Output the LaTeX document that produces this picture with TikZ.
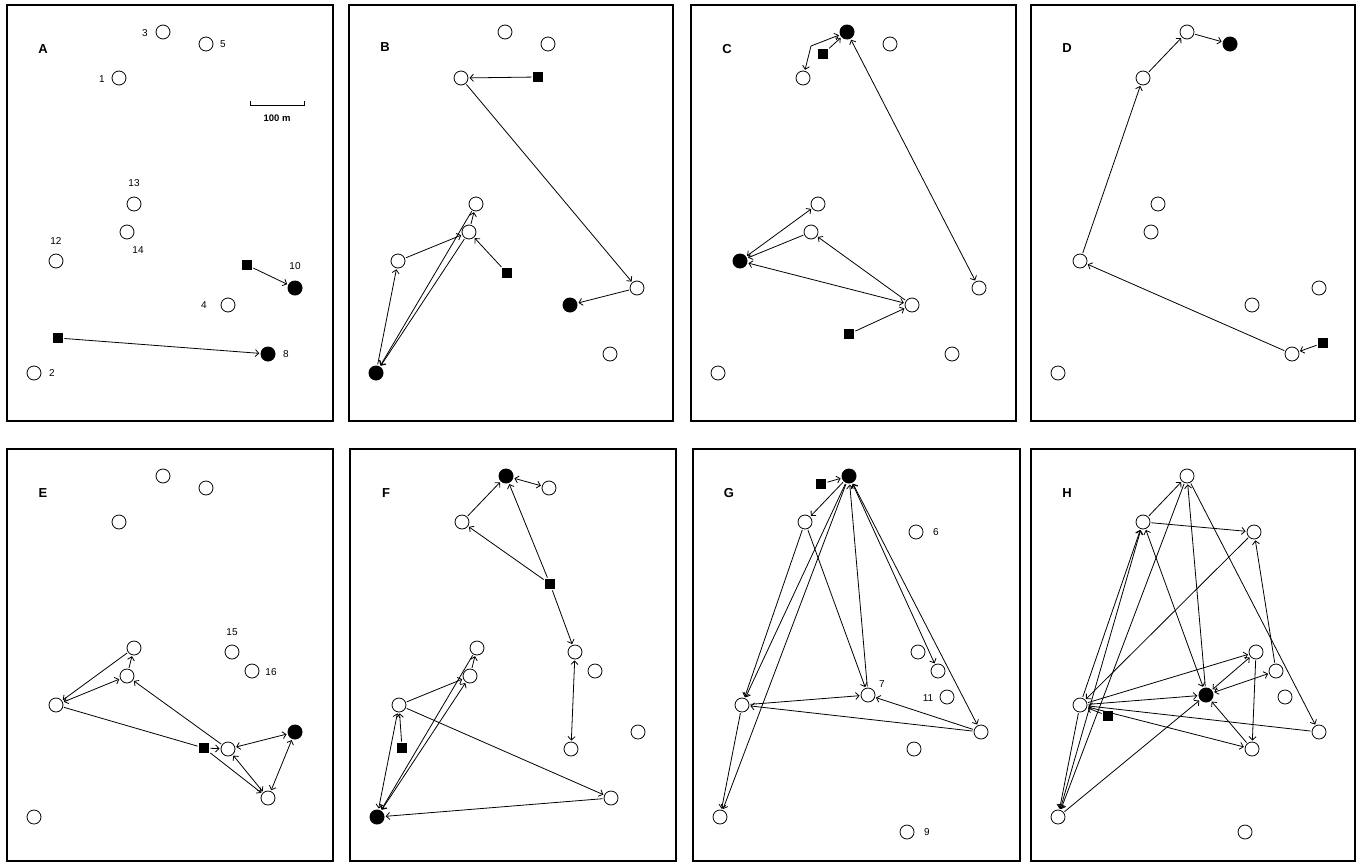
\documentclass[tikz,border=0pt]{standalone}
\usepackage{fontspec}
\setmainfont{Liberation Sans}
\usepackage{tikz}
\usetikzlibrary{positioning,arrows.meta,calc}

% site positions inside one panel, measured from the top left corner of its frame
\newcommand{\sitemap}[1]{%
  \foreach \n/\sx/\sy in {1/112/73,2/27/368,3/156/27,4/221/300,5/199/39,6/223/83,
      7/175/246,8/261/349,9/214/383,10/288/283,11/254/248,12/49/256,
      13/127/199,14/120/227,15/225/203,16/245/222}
    {\coordinate (#1c\n) at (\sx,\sy);}%
}

\begin{document}
\begin{tikzpicture}[x=1pt, y=-1pt,
    box/.style={draw, line width=1.1pt},
    site/.style={draw, circle, line width=0.8pt, minimum size=14pt, inner sep=0pt},
    home/.style={circle, fill=black, minimum size=15pt, inner sep=0pt},
    sqr/.style={fill=black, minimum size=10.5pt, inner sep=0pt},
    plabel/.style={font=\fontsize{13}{13}\selectfont\bfseries},
    num/.style={font=\fontsize{10}{10}\selectfont, inner sep=0pt},
    ln/.style={line width=0.8pt, shorten <=1pt, shorten >=1pt},
    mv/.style={ln, ->},
    mvb/.style={ln, <->},
    >={Straight Barb[length=3.5pt,width=7pt]}
  ]
  \useasboundingbox (0,0) rectangle (1359,862);

  % A
  \begin{scope}[shift={(7,5)}]
    \sitemap{A}
    \draw[box] (0,0) rectangle (326,416);
    \node[plabel] (tA) at (36,44) {A};
    \foreach \n in {1,2,3,4,5,12,13,14} \node[site] (A\n) at (Ac\n) {};
    \foreach \n in {8,10} \node[home] (A\n) at (Ac\n) {};
    \node[sqr] (Aq1) at (240,260) {};
    \node[sqr] (Aq2) at (51,333) {};
    \foreach \n/\dx/\dy in {1/-17/1,2/18/0,3/-18/1,4/-24/0,5/17/0,8/18/0,
        10/0/-22,12/0/-20,13/0/-21,14/11/18}
      \node[num] (nA\n) at ($(A\n)+(\dx,\dy)$) {\n};
    \draw[mv] (Aq1) -- (A10);
    \draw[mv] (Aq2) -- (A8);
    \draw[line width=0.7pt] (243,96) -- (243,100) -- (297,100) -- (297,96);
    \node[num, font=\fontsize{9.5}{10}\selectfont\bfseries] (scl) at (270,113) {100 m};
  \end{scope}

  % B
  \begin{scope}[shift={(349,5)}]
    \sitemap{B}
    \draw[box] (0,0) rectangle (324,416);
    \node[plabel] (tB) at (36,42) {B};
    \foreach \n in {1,3,5,8,10,12,13,14} \node[site] (B\n) at (Bc\n) {};
    \foreach \n in {2,4} \node[home] (B\n) at (Bc\n) {};
    \node[sqr] (Bq1) at (189,72) {};
    \node[sqr] (Bq2) at (158,268) {};
    \draw[mv] (Bq1) -- (B1);
    \draw[mv] (B1) -- (B10);
    \draw[mv] (B10) -- (B4);
    \draw[mv] (Bq2) -- (B14);
    \draw[mv] (B14) -- (B13);
    \draw[mv] (B13) -- (B2);
    \draw[mv] (B14) -- (B2);
    \draw[mv] (B2) -- (B12);
    \draw[mv] (B12) -- (B14);
  \end{scope}

  % C
  \begin{scope}[shift={(691,5)}]
    \sitemap{C}
    \draw[box] (0,0) rectangle (325,416);
    \node[plabel] (tC) at (36,44) {C};
    \foreach \n in {1,2,4,5,8,10,13,14} \node[site] (C\n) at (Cc\n) {};
    \foreach \n in {3,12} \node[home] (C\n) at (Cc\n) {};
    \node[sqr] (Cq1) at (132,49) {};
    \node[sqr] (Cq2) at (158,329) {};
    \coordinate (Ck) at (120,41);
    \draw[mv] (Cq1) -- (C3);
    \draw[mvb] (C1) -- (Ck) -- (C3);
    \draw[mvb] (C3) -- (C10);
    \draw[mvb] (C13) -- (C12);
    \draw[mv] (C14) -- (C12);
    \draw[mvb] (C4) -- (C12);
    \draw[mv] (C4) -- (C14);
    \draw[mv] (Cq2) -- (C4);
  \end{scope}

  % D
  \begin{scope}[shift={(1031,5)}]
    \sitemap{D}
    \draw[box] (0,0) rectangle (324,416);
    \node[plabel] (tD) at (36,43) {D};
    \foreach \n in {1,2,3,4,8,10,12,13,14} \node[site] (D\n) at (Dc\n) {};
    \node[home] (D5) at (Dc5) {};
    \node[sqr] (Dq) at (292,338) {};
    \draw[mv] (Dq) -- (D8);
    \draw[mv] (D8) -- (D12);
    \draw[mv] (D12) -- (D1);
    \draw[mv] (D1) -- (D3);
    \draw[mv] (D3) -- (D5);
  \end{scope}

  % E
  \begin{scope}[shift={(7,449)}]
    \sitemap{E}
    \draw[box] (0,0) rectangle (326,412);
    \node[plabel] (tE) at (36,44) {E};
    \foreach \n in {1,2,3,4,5,8,12,13,14,15,16} \node[site] (E\n) at (Ec\n) {};
    \node[home] (E10) at (Ec10) {};
    \node[sqr] (Eq) at (197,299) {};
    \node[num] (nE15) at ($(E15)+(0,-20)$) {15};
    \node[num] (nE16) at ($(E16)+(19,1)$) {16};
    \draw[mv] (E13) -- (E12);
    \draw[mvb] (E12) -- (E14);
    \draw[mv] (E14) -- (E13);
    \draw[ln] (E12) -- (Eq);
    \draw[mv] (Eq) -- (E4);
    \draw[mv] (E4) -- (E14);
    \draw[mvb] (E4) -- (E10);
    \draw[mvb] (E4) -- (E8);
    \draw[mv] (Eq) -- (E8);
    \draw[mvb] (E8) -- (E10);
  \end{scope}

  % F
  \begin{scope}[shift={(350,449)}]
    \sitemap{F}
    \draw[box] (0,0) rectangle (326,412);
    \node[plabel] (tF) at (36,44) {F};
    \foreach \n in {1,4,5,8,10,12,13,14,15,16} \node[site] (F\n) at (Fc\n) {};
    \foreach \n in {2,3} \node[home] (F\n) at (Fc\n) {};
    \node[sqr] (Fq1) at (200,135) {};
    \node[sqr] (Fq2) at (52,299) {};
    \draw[mvb] (F5) -- (F3);
    \draw[mv] (F1) -- (F3);
    \draw[mv] (Fq1) -- (F1);
    \draw[mv] (Fq1) -- (F3);
    \draw[mv] (Fq1) -- (F15);
    \draw[mvb] (F15) -- (F4);
    \draw[mv] (Fq2) -- (F12);
    \draw[mvb] (F12) -- (F2);
    \draw[mv] (F12) -- (F14);
    \draw[mv] (F14) -- (F13);
    \draw[mv] (F13) -- (F2);
    \draw[mvb] (F14) -- (F2);
    \draw[mv] (F12) -- (F8);
    \draw[mv] (F8) -- (F2);
  \end{scope}

  % G
  \begin{scope}[shift={(693,449)}]
    \sitemap{G}
    \draw[box] (0,0) rectangle (327,412);
    \node[plabel] (tG) at (36,44) {G};
    \foreach \n in {1,2,4,6,7,9,10,11,12,15,16} \node[site] (G\n) at (Gc\n) {};
    \node[home] (G3) at (Gc3) {};
    \node[sqr] (Gq) at (128,35) {};
    \foreach \n/\dx/\dy in {6/20/0,7/14/-11,11/-19/1,9/20/0}
      \node[num] (nG\n) at ($(G\n)+(\dx,\dy)$) {\n};
    \draw[mv] (Gq) -- (G3);
    \draw[mv] (G3) -- (G1);
    \draw[mv] (G1) -- (G12);
    \draw[mv] (G1) -- (G7);
    \draw[mv] (G3) -- (G12);
    \draw[mv] (G3) -- (G2);
    \draw[mv] (G12) -- (G2);
    \draw[mv] (G7) -- (G3);
    \draw[mvb] (G3) -- (G16);
    \draw[mvb] (G3) -- (G10);
    \draw[mv] (G12) -- (G7);
    \draw[mv] (G10) -- (G12);
    \draw[mv] (G10) -- (G7);
  \end{scope}

  % H
  \begin{scope}[shift={(1031,449)}]
    \sitemap{H}
    \draw[box] (0,0) rectangle (324,412);
    \node[plabel] (tH) at (36,44) {H};
    \foreach \n in {1,2,3,4,6,9,10,11,12,15,16} \node[site] (H\n) at (Hc\n) {};
    \node[home] (H7) at (Hc7) {};
    \node[sqr] (Hq) at (77,267) {};
    \draw[mv] (H1) -- (H3);
    \draw[mv] (H1) -- (H6);
    \draw[mv] (H12) -- (H1);
    \draw[mvb] (H2) -- (H1);
    \draw[mvb] (H1) -- (H7);
    \draw[mv] (H3) -- (H2);
    \draw[mv] (H7) -- (H3);
    \draw[mv] (H3) -- (H10);
    \draw[mv] (H6) -- (H12);
    \draw[mv] (H16) -- (H6);
    \draw[mv] (H15) -- (H4);
    \draw[mvb] (H15) -- (H7);
    \draw[mvb] (H16) -- (H7);
    \draw[mv] (H4) -- (H7);
    \draw[mv] (H12) -- (H15);
    \draw[mv] (H12) -- (H7);
    \draw[mv] (Hq) -- (H12);
    \draw[mv] (H12) -- (H4);
    \draw[mv] (H10) -- (H12);
    \draw[mv] (H2) -- (H7);
    \draw[mv] (H12) -- (H2);
  \end{scope}
\end{tikzpicture}
\end{document}
